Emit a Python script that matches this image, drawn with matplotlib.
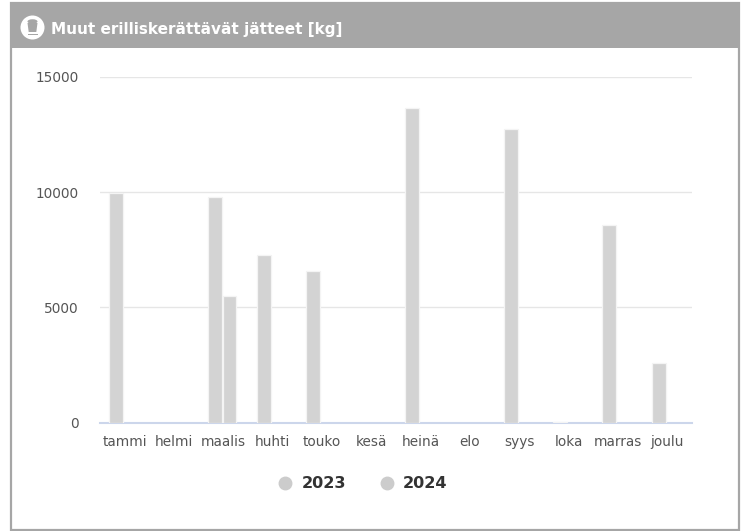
import matplotlib
matplotlib.use("Agg")
import matplotlib.pyplot as plt
from matplotlib.patches import Rectangle, Circle, Polygon, Ellipse
from matplotlib.lines import Line2D
import numpy as np

months = ["tammi", "helmi", "maalis", "huhti", "touko", "kesä", "heinä", "elo", "syys", "loka", "marras", "joulu"]
values_2023 = [9980, 0, 9780, 7280, 6580, 0, 13650, 0, 12750, 20, 8570, 2570]
values_2024 = [0, 0, 5480, 0, 0, 0, 0, 0, 0, 0, 0, 0]
yticks = [0, 5000, 10000, 15000]
title = "Muut erilliskerättävät jätteet [kg]"
series_names = ["2023", "2024"]

W, H = 746, 531
GRAY = "#a6a6a6"
BAR = "#d3d3d3"
EDGE = "#f4f4f4"
fig = plt.figure(figsize=(W / 100, H / 100), dpi=100, facecolor="white")

def fx(px): return px / W
def fy(py): return 1 - py / H

# outer frame and header
fig.add_artist(Rectangle((fx(11), fy(530)), (739 - 11) / W, (530 - 3) / H, transform=fig.transFigure,
                         fc="white", ec=GRAY, lw=1.6, zorder=-2))
fig.add_artist(Rectangle((fx(10), fy(47.5)), (740 - 10) / W, 44.5 / H, transform=fig.transFigure,
                         fc=GRAY, ec="none", zorder=-1))

# header icon (round badge with a bin)
over = fig.add_axes([0, 0, 1, 1], facecolor="none", zorder=5)
over.set_xlim(0, W); over.set_ylim(H, 0); over.axis("off")
over.add_patch(Circle((32.5, 27.5), 12, fc="white", ec="none"))
over.add_patch(Ellipse((32.5, 21.5), 10, 4.5, fc=GRAY, ec="none"))
over.add_patch(Polygon([[27.5, 23], [37.5, 23], [36.3, 32], [28.7, 32]], fc=GRAY, ec="none"))
over.add_patch(Rectangle((27.5, 33.5), 10, 1.2, fc=GRAY, ec="none"))
over.text(51, 29.5, title, color="white", fontsize=10.95, fontweight="bold", va="center", ha="left",
          family="DejaVu Sans")

# plot
ax = fig.add_axes([fx(100), fy(422.5), (692 - 100) / W, (422.5 - 77) / H], facecolor="none")
x = np.arange(len(months))
for offset, vals, name in [(-0.175, values_2023, series_names[0]), (0.125, values_2024, series_names[1])]:
    ax.bar(x + offset, vals, width=0.28, zorder=3, label=name,
           color=[BAR if v else "none" for v in vals],
           edgecolor=[EDGE if v else "none" for v in vals], linewidth=0.9)
ax.set_xlim(-0.5, 11.5)
ax.set_ylim(0, 15000)
ax.set_yticks(yticks)
ax.set_xticks(x, months)
ax.grid(axis="y", color="#e6e6e6", lw=1, zorder=0)
for s in ["top", "left", "right"]:
    ax.spines[s].set_visible(False)
ax.spines["bottom"].set_color("#ccd6eb")
ax.spines["bottom"].set_linewidth(1.5)
ax.spines["bottom"].set_zorder(2)
ax.tick_params(axis="both", length=0, labelcolor="#555555", labelsize=9.8)
ax.tick_params(axis="x", pad=9)
ax.tick_params(axis="y", pad=15.5)

handles = [Line2D([], [], ls="none", marker="o", ms=10, color="#cccccc", mec="none") for _ in series_names]
fig.legend(handles, series_names, loc="center", bbox_to_anchor=(fx(358.5), fy(484)), ncols=2, frameon=False,
           prop={"weight": "bold", "size": 11.6}, labelcolor="#333333", handletextpad=0.0, columnspacing=1.55)

fig.savefig("out.png", dpi=100)
